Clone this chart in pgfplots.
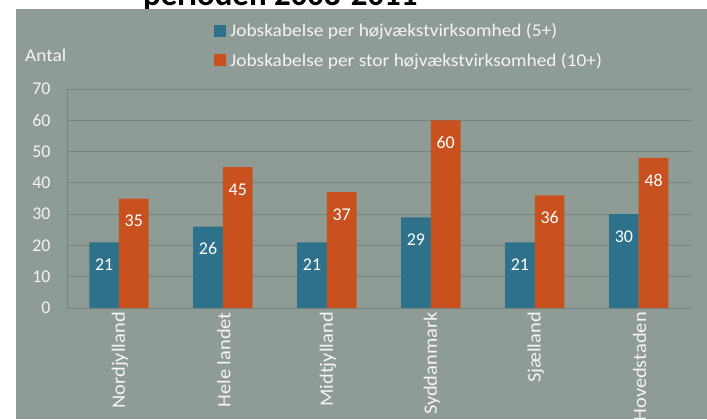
\documentclass[border=0pt]{standalone}
\usepackage{fontspec}
\setmainfont{Carlito}
\newfontfamily\widefont[FakeStretch=1.08]{Carlito}
\usepackage{pgfplots}
\pgfplotsset{compat=1.18}
\definecolor{panel}{HTML}{8E9C95}
\definecolor{gridc}{HTML}{78837E}
\definecolor{tealbar}{HTML}{2E718A}
\definecolor{orangebar}{HTML}{C9511F}
\definecolor{lbl}{HTML}{F4F4F4}
\begin{document}
\begin{tikzpicture}[x=1bp,y=1bp]
  \useasboundingbox (0,0) rectangle (707,419);
  \clip (0,0) rectangle (707,419);
  % title, its upper part lies above the page
  \node[anchor=base west, inner sep=0, font=\fontsize{33}{35}\selectfont\bfseries]
    at (143,413) {perioden 2008-2011};
  % chart panel
  \fill[panel] (16,0) rectangle (707,410);
  \begin{axis}[
      at={(67bp,111bp)}, anchor=south west,
      scale only axis, width=623.7bp, height=219bp,
      ybar=0pt, bar width=29.7bp,
      xmin=-0.5, xmax=5.5, ymin=0, ymax=70,
      xtick={0,...,5},
      xticklabels={Nordjylland, Hele landet, Midtjylland, Syddanmark, Sjælland, Hovedstaden},
      ytick={0,10,...,70},
      major tick length=0pt,
      ymajorgrids, grid style={gridc, line width=1bp},
      axis x line*=bottom, axis y line*=left,
      axis line style={gridc, line width=1bp, -},
      /pgf/number format/assume math mode=true,
      yticklabel style={font=\fontsize{18}{20}\selectfont, text=lbl, anchor=east, xshift=-13bp},
      xticklabel style={font=\widefont\fontsize{19}{21}\selectfont, text=lbl,
        rotate=90, anchor=east, inner sep=0pt, xshift=-4bp, yshift=-1bp},
      ylabel={Antal},
      every axis y label/.style={at={(axis description cs:-0.0673,1.155)}, anchor=west,
        inner sep=0pt, font=\widefont\fontsize{18}{20}\selectfont, text=lbl},
      nodes near coords,
      every node near coord/.append style={font=\fontsize{18}{20}\selectfont, text=white,
        inner sep=0pt, yshift=-28.5bp},
      legend style={at={(axis description cs:0.2357,1.30)}, anchor=north west,
        draw=none, fill=none, inner sep=0pt, row sep=15bp,
        font=\widefont\fontsize{18}{20}\selectfont, text=lbl,
        nodes={inner sep=0pt, anchor=west}},
      legend cell align=left,
      legend image code/.code={\fill[#1, draw=none] (0bp,-6bp) rectangle (12bp,6bp);
        \path (16bp,0bp);},
    ]
    \addplot[fill=tealbar, draw=none] coordinates {
      (0,21) (1,26) (2,21) (3,29) (4,21) (5,30)
    };
    \addlegendentry{Jobskabelse per højvækstvirksomhed (5+)}
    \addplot[fill=orangebar, draw=none] coordinates {
      (0,35) (1,45) (2,37) (3,60) (4,36) (5,48)
    };
    \addlegendentry{Jobskabelse per stor højvækstvirksomhed (10+)}
  \end{axis}
\end{tikzpicture}
\end{document}
